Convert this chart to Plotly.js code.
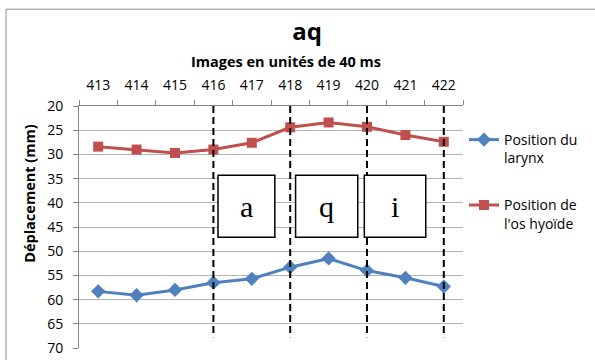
<!DOCTYPE html>
<html>
<head>
<meta charset="utf-8">
<script src="https://cdn.plot.ly/plotly-3.0.1.min.js"></script>
<style>html,body{margin:0;padding:0;background:#fff;}#chart{width:595px;height:360px;}</style>
</head>
<body>
<div id="chart"></div>
<script>
// Data
const frames = ['413','414','415','416','417','418','419','420','421','422'];
const larynx = [58.3, 59.1, 58.0, 56.5, 55.7, 53.3, 51.5, 54.0, 55.5, 57.3];
const hyoid = [28.4, 29.0, 29.7, 29.0, 27.6, 24.4, 23.4, 24.3, 26.0, 27.4];
const seriesNames = ['Position du<br>larynx', "Position de<br>l'os hyoïde"];
const dividers = ['416','418','420','422'];
const segmentLabels = ['a','q','i'];
const yTicks = [20,25,30,35,40,45,50,55,60,65,70];

const FONT = 'Open Sans, Liberation Sans, sans-serif';
const blue = '#4F81BD', red = '#C0504D';

const traces = [
  {x: frames, y: larynx, name: seriesNames[0], type: 'scatter', mode: 'lines+markers',
   legendgroup: 'g1',
   line: {color: blue, width: 3}, marker: {symbol: 'diamond', size: 11, color: blue}},
  {x: frames, y: hyoid, name: seriesNames[1], type: 'scatter', mode: 'lines+markers',
   legendgroup: 'g2',
   line: {color: red, width: 3}, marker: {symbol: 'square', size: 10, color: red}}
];

// segment box geometry (category index units / data units)
const boxX = [[3.12, 4.60], [5.14, 6.76], [6.93, 8.53]];
const boxY = [34.3, 47.1];

const shapes = [];
// outer chart border
shapes.push({type: 'rect', xref: 'paper', yref: 'paper', x0: -0.19, x1: 1.6, y0: -0.3, y1: 1.40,
  line: {color: '#8c8c8c', width: 1}, fillcolor: 'rgba(0,0,0,0)', layer: 'below'});
dividers.forEach(d => {
  const xi = frames.indexOf(d);
  shapes.push({type: 'line', xref: 'x', yref: 'y', x0: xi, x1: xi, y0: 20, y1: 67.8,
    line: {color: '#000', width: 2, dash: '7px,4px'}, layer: 'above'});
});
boxX.forEach(b => shapes.push({type: 'rect', xref: 'x', yref: 'y', x0: b[0], x1: b[1], y0: boxY[0], y1: boxY[1],
  line: {color: '#000', width: 1.5}, fillcolor: '#fff', layer: 'above'}));

const annotations = segmentLabels.map((t, i) => ({
  text: t, xref: 'x', yref: 'y', x: (boxX[i][0] + boxX[i][1]) / 2, y: (boxY[0] + boxY[1]) / 2,
  showarrow: false, font: {family: 'Liberation Serif, Times New Roman, serif', size: 30, color: '#000'},
  xanchor: 'center', yanchor: 'middle'
}));
annotations.push({text: '<b>Images en unités de 40 ms</b>', xref: 'paper', yref: 'paper',
  x: (289 - 79) / 390, y: (348 - 61) / 242, showarrow: false, xanchor: 'center', yanchor: 'middle',
  font: {family: FONT, size: 14.5, color: '#000'}});
annotations.push({text: '<b>Déplacement (mm)</b>', xref: 'paper', yref: 'paper',
  x: (28 - 79) / 390, y: (348 - 194) / 242, showarrow: false, xanchor: 'center', yanchor: 'middle',
  textangle: -90, font: {family: FONT, size: 14.5, color: '#000'}});

const layout = {
  width: 595, height: 360,
  margin: {l: 79, r: 126, t: 106, b: 12},
  paper_bgcolor: '#fff', plot_bgcolor: '#fff',
  font: {family: FONT, size: 14, color: '#000'},
  title: {text: '<b>aq</b>', x: 307 / 595, xanchor: 'center', y: 1 - 32 / 360, yanchor: 'middle',
    font: {family: FONT, size: 24, color: '#000'}},
  xaxis: {type: 'category', side: 'top', showline: true, linecolor: '#868686', linewidth: 1,
    ticks: 'outside', ticklen: 5, tickcolor: '#868686', tickson: 'boundaries', ticklabelstandoff: 9,
    showgrid: false, zeroline: false, range: [-0.5, 9.5], fixedrange: true,
    tickfont: {family: FONT, size: 14, color: '#000'}},
  yaxis: {autorange: false, range: [70, 20], tickvals: yTicks, showline: true, linecolor: '#868686',
    linewidth: 1, ticks: 'outside', ticklen: 5, tickcolor: '#868686', showgrid: true, ticklabelstandoff: 7,
    gridcolor: '#b3b3b3', gridwidth: 1, zeroline: false, fixedrange: true,
    tickfont: {family: FONT, size: 14, color: '#000'}},
  showlegend: true,
  legend: {x: (470 - 79) / 390, xanchor: 'left', y: (348 - 124) / 242, yanchor: 'top',
    traceorder: 'grouped', tracegroupgap: 26, valign: 'top', borderwidth: 0,
    bgcolor: 'rgba(0,0,0,0)', font: {family: FONT, size: 14, color: '#000'}},
  shapes: shapes,
  annotations: annotations
};

Plotly.newPlot('chart', traces, layout, {displayModeBar: false, staticPlot: true});
</script>
</body>
</html>
